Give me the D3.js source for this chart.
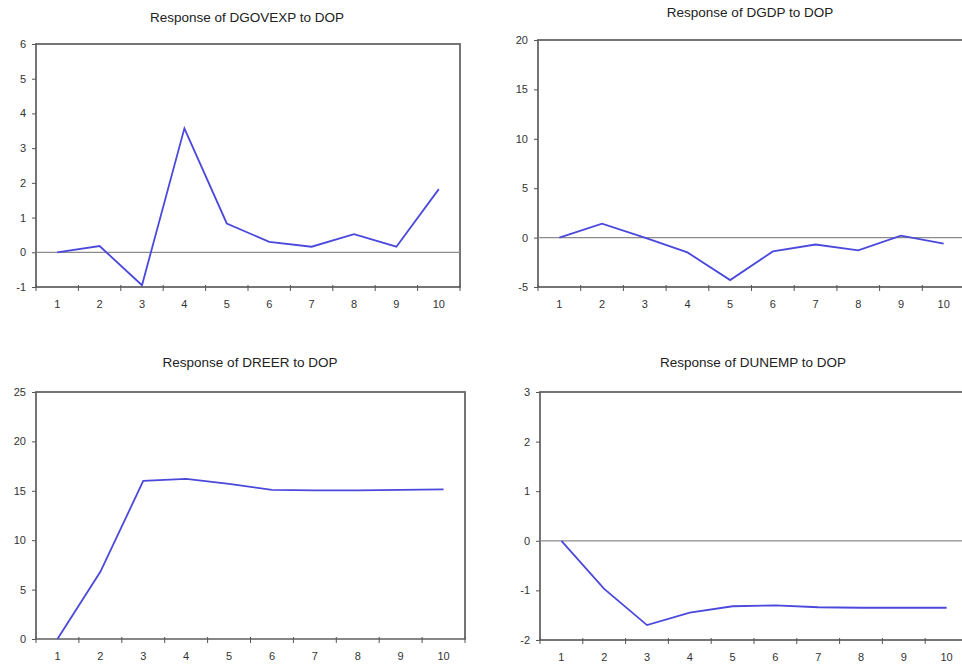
<!DOCTYPE html>
<html>
<head>
<meta charset="utf-8">
<script src="https://cdn.jsdelivr.net/npm/d3@7"></script>
<style>
  body { margin: 0; background: #fff; }
  svg { display: block; font-family: "Liberation Sans", Arial, sans-serif; }
</style>
</head>
<body>
<svg id="vis-svg"></svg>
<script>
/** * * * * * * DATA * * * * */
const periods = [1, 2, 3, 4, 5, 6, 7, 8, 9, 10];

const dgovexp = [0, 0.18, -0.95, 3.57, 0.83, 0.3, 0.16, 0.52, 0.16, 1.82];
const dgdp = [0, 1.4, 0, -1.5, -4.3, -1.4, -0.7, -1.3, 0.2, -0.6];
const dreer = [0, 6.8, 16.0, 16.2, 15.7, 15.1, 15.05, 15.05, 15.1, 15.15];
const dunemp = [0, -0.97, -1.7, -1.45, -1.32, -1.3, -1.34, -1.35, -1.35, -1.35];

const ticksGov = [-1, 0, 1, 2, 3, 4, 5, 6];
const ticksGdp = [-5, 0, 5, 10, 15, 20];
const ticksReer = [0, 5, 10, 15, 20, 25];
const ticksUnemp = [-2, -1, 0, 1, 2, 3];

/** * * * * * * LAYOUT * * * * */
const width = 962;
const height = 668;
const lineColor = '#4b48dc';

const panels = [
  {title: 'Response of DGOVEXP to DOP', values: dgovexp, ticks: ticksGov,
    left: 36, right: 460, top: 44, bottom: 287, titleX: 247, titleY: 22},
  {title: 'Response of DGDP to DOP', values: dgdp, ticks: ticksGdp,
    left: 538, right: 965, top: 40, bottom: 287, titleX: 750, titleY: 17},
  {title: 'Response of DREER to DOP', values: dreer, ticks: ticksReer,
    left: 36, right: 465, top: 392, bottom: 639, titleX: 250, titleY: 367},
  {title: 'Response of DUNEMP to DOP', values: dunemp, ticks: ticksUnemp,
    left: 540, right: 968, top: 392, bottom: 640, titleX: 753, titleY: 367}
];

const svg = d3.select('#vis-svg')
  .attr('width', width)
  .attr('height', height);

// plain hyphen for negatives, like the original software
function fmt(d) {
  return String(d);
}

function drawPanel(p) {
  let g = svg.append('g');

  let xScale = d3.scaleBand()
    .domain(periods)
    .range([p.left, p.right]);

  let yScale = d3.scaleLinear()
    .domain(d3.extent(p.ticks))
    .range([p.bottom, p.top]);

  // frame
  g.append('rect')
    .attr('x', p.left)
    .attr('y', p.top)
    .attr('width', p.right - p.left)
    .attr('height', p.bottom - p.top)
    .attr('fill', 'none')
    .attr('stroke', '#666')
    .attr('stroke-width', 1.8);

  // zero line
  g.append('line')
    .attr('x1', p.left)
    .attr('x2', p.right)
    .attr('y1', yScale(0))
    .attr('y2', yScale(0))
    .attr('stroke', '#8c8c8c')
    .attr('stroke-width', 1.3);

  // y axis
  let yAxis = g.append('g')
    .attr('transform', `translate(${p.left},0)`)
    .call(d3.axisLeft(yScale).tickValues(p.ticks).tickSize(4).tickPadding(6).tickFormat(fmt));
  yAxis.select('.domain').remove();

  // x axis, ticks sit on the band edges
  let edges = periods.map(function(d){ return xScale(d); }).concat([p.right]);
  g.selectAll('.xtick')
    .data(edges)
    .enter()
    .append('line')
    .attr('x1', function(d){ return d; })
    .attr('x2', function(d){ return d; })
    .attr('y1', p.bottom - 2)
    .attr('y2', p.bottom + 4)
    .attr('stroke', '#555')
    .attr('stroke-width', 1);

  g.selectAll('.xlabel')
    .data(periods)
    .enter()
    .append('text')
    .attr('x', function(d){ return xScale(d) + xScale.bandwidth() / 2; })
    .attr('y', p.bottom + 21)
    .attr('text-anchor', 'middle')
    .style('font-size', '11px')
    .style('fill', '#333')
    .text(function(d){ return d; });

  yAxis.selectAll('text')
    .style('font-size', '11px')
    .style('fill', '#333');
  yAxis.selectAll('line')
    .attr('stroke', '#555');

  // the response line
  let line = d3.line()
    .x(function(d, i){ return xScale(periods[i]) + xScale.bandwidth() / 2; })
    .y(function(d){ return yScale(d); });

  g.append('path')
    .datum(p.values)
    .attr('d', line)
    .attr('fill', 'none')
    .attr('stroke', lineColor)
    .attr('stroke-width', 1.8);

  // title
  g.append('text')
    .attr('x', p.titleX)
    .attr('y', p.titleY)
    .attr('text-anchor', 'middle')
    .style('font-size', '13.5px')
    .style('fill', '#222')
    .text(p.title);
}

panels.forEach(drawPanel);
</script>
</body>
</html>
